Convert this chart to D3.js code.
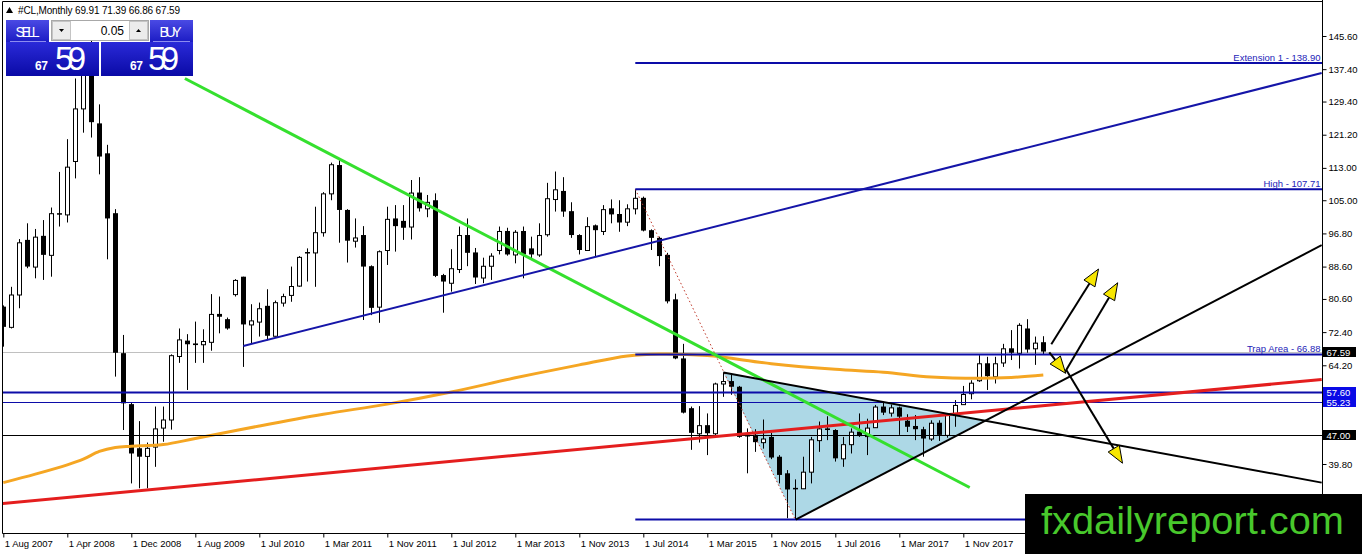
<!DOCTYPE html>
<html>
<head>
<meta charset="utf-8">
<script src="https://cdn.jsdelivr.net/npm/d3@7"></script>
<style>
  body { margin: 0; background: #fff; }
  svg { display: block; font-family: "Liberation Sans", Arial, sans-serif; }
</style>
</head>
<body>
<svg id="chart" width="1362" height="554"></svg>
<script>
// monthly #CL candles, bar 0 = Aug 2007
const opens = [78.7,73.7,81.7,95.2,88.6,96.2,91.5,101.8,101.5,114.7,127.7,140.0,124.0,116.6,101.8,67.2,54.6,43.7,41.8,44.1,
  48.8,50.8,66.5,70.3,69.6,69.4,70.0,76.9,75.6,81.8,86.1,74.3,75.0,78.9,71.5,79.7,81.6,83.9,92.2,92.1,
  97.1,106.7,113.7,102.6,95.0,96.4,88.7,78.7,92.7,100.5,99.9,98.5,106.9,103.0,105.0,86.5,84.6,88.0,96.4,92.1,
  85.9,88.8,92.7,97.4,91.6,97.4,93.1,91.6,96.6,105.3,107.3,102.3,96.4,92.7,98.8,97.4,103.0,101.6,99.7,103.0,
  105.6,97.6,95.7,91.5,80.5,65.9,53.6,47.4,49.4,47.4,59.7,60.3,58.9,47.0,47.0,45.2,46.5,41.6,37.5,33.9,
  33.8,37.9,45.7,48.6,48.2,41.2,44.7,47.8,46.7,48.9,54.0,52.5,53.8,50.5,49.2,48.4,46.1,50.0,47.0,51.9,
  54.6,57.3,60.5,64.7,61.5,64.9,68.4,67.3,73.3,68.4,69.91];
const highs = [79.0,83.6,95.4,99.3,97.9,100.1,103.2,112.0,120.1,135.1,143.7,147.3,128.7,118.7,102.8,71.7,54.9,50.4,45.1,54.0,
  54.0,66.9,73.3,71.9,75.0,73.1,81.8,81.2,76.0,85.5,86.1,79.3,79.7,83.0,80.2,81.9,88.6,91.2,93.1,103.4,
  107.0,114.3,114.9,102.8,100.5,98.6,88.9,92.6,103.4,103.8,103.8,110.0,110.7,106.3,106.7,86.8,92.9,98.5,100.5,93.2,
  90.8,91.9,98.5,98.2,97.6,98.5,96.0,99.3,109.3,112.1,110.7,104.5,96.6,100.8,99.0,103.8,105.2,105.0,104.0,107.71,
  105.9,97.8,96.0,92.0,81.9,69.5,54.0,54.1,52.3,59.9,62.4,61.8,59.1,48.6,48.4,50.8,47.5,42.0,38.3,36.0,
  41.6,46.5,50.3,51.6,48.4,46.5,48.6,52.3,51.0,54.4,55.2,54.5,54.0,52.1,51.9,49.0,50.6,50.6,52.0,55.6,
  59.1,60.5,66.7,66.3,66.3,69.5,72.9,74.6,75.6,71.3,71.39];
const lows = [68.8,73.3,78.3,88.2,85.7,85.3,86.1,98.5,99.5,110.4,121.7,120.5,111.4,90.4,61.4,48.2,35.0,33.8,33.8,39.1,
  45.3,48.3,64.8,58.1,64.8,64.8,67.8,72.1,73.0,81.2,63.8,69.6,71.3,70.4,71.3,78.7,79.9,83.6,84.9,83.6,
  96.0,105.0,94.5,89.6,93.3,75.4,76.6,74.7,89.0,92.3,95.2,95.3,102.2,100.8,86.0,77.2,82.4,87.0,88.7,84.3,
  84.5,85.3,91.6,91.3,89.4,85.7,90.6,91.0,96.0,102.2,100.9,95.7,91.6,92.5,91.0,96.4,99.3,97.2,98.6,101.5,
  97.3,92.7,88.7,79.5,65.7,52.3,43.3,45.1,42.0,46.3,56.4,56.9,46.3,37.5,42.8,43.6,41.0,35.0,26.4,26.05,
  33.6,35.0,42.8,45.7,40.4,39.1,42.4,46.5,42.0,48.7,51.9,51.5,47.0,47.7,45.7,41.6,45.5,45.5,46.3,49.0,
  54.4,55.8,60.1,58.1,59.7,63.8,65.5,63.4,67.3,64.3,66.86];
const closes = [73.7,81.7,94.6,88.6,96.0,91.5,101.8,101.5,113.3,127.7,140.0,124.3,115.8,100.5,67.3,54.8,42.4,41.6,43.8,48.6,
  50.8,66.7,70.6,69.4,69.2,70.2,76.9,76.2,73.3,85.3,74.3,75.3,78.3,71.5,79.8,81.3,83.8,91.0,91.9,97.1,
  106.7,113.9,102.6,95.0,95.8,88.6,78.4,92.4,100.4,98.6,98.2,106.9,103.0,104.6,86.3,84.9,88.2,96.4,92.0,85.9,
  88.8,91.3,97.4,91.6,97.2,91.6,91.6,96.4,105.5,107.7,102.2,96.4,92.7,98.6,97.6,102.8,101.5,99.5,103.0,105.6,
  97.5,95.7,91.2,80.0,65.9,52.5,47.5,49.4,47.4,59.7,60.3,58.9,46.5,46.6,45.2,46.1,41.4,37.1,33.5,33.7,
  37.9,45.9,48.6,48.2,41.2,44.7,47.8,46.7,48.8,54.0,52.5,53.8,51.5,49.0,48.4,46.1,50.0,47.0,51.9,54.4,
  57.1,59.9,64.7,61.5,64.7,68.4,67.3,74.2,68.1,69.8,67.59];

// orange moving average, read at some bars
const maIdx = [0,4,8,10,12,14,16,20,24,32,40,48,56,64,72,78,82,88,96,104,110,116,122,126,130];
const maVal = [35.2,37.3,39.6,41.0,42.9,43.9,44.2,44.6,46.1,49.2,52.1,54.6,57.6,61.1,64.3,66.5,67.0,66.6,64.6,63.2,62.5,61.3,61.0,61.2,61.8];

// axis ticks (the ones hidden under the price tags are left out)
const timeTickIdx = [0,8,16,24,32,40,48,56,64,72,80,88,96,104,112,120];
const timeTickLabels = ["1 Aug 2007","1 Apr 2008","1 Dec 2008","1 Aug 2009","1 Jul 2010","1 Mar 2011","1 Nov 2011","1 Jul 2012",
  "1 Mar 2013","1 Nov 2013","1 Jul 2014","1 Mar 2015","1 Nov 2015","1 Jul 2016","1 Mar 2017","1 Nov 2017"];
const priceTicks = [145.6,137.4,129.4,121.2,113.0,105.0,96.8,88.6,80.6,72.4,64.2,39.8,31.6];

// drawn objects, as [bar index, price]
const greenLine = [[22.7,135.1],[120.8,34.0]];
const redLine = [[-0.1,30.0],[164.8,60.7]];
const blueRay = [[30.0,68.96],[164.8,136.45]];
const triUpper = [[90,62.4],[164.8,35.2]];
const triLower = [[99.05,26.05],[164.8,93.9]];
const triangle = [[90,62.4],[99.05,26.05],[122.5,50.5]];
const fibStart = [79,107.71], fibEnd = [99,26.05];
const fibLevels = [26.05, 66.88, 107.71, 138.90];
const fibNames = ["", "Trap Area - 66.88", "High - 107.71", "Extension 1 - 138.90"];
const arrows = [
  [[131.0,69.4],[136.9,88.0]],
  [[132.7,62.5],[139.3,84.6]],
  [[130.75,67.4],[132.8,62.2]],
  [[132.9,63.0],[139.9,40.0]]
];
const hLevels = [57.60, 55.23, 47.00];
const lastPrice = 67.59;

const svg = d3.select("#chart");
const W = 1362, H = 554;
const pL = 2.5, pT = 1.5, pR = 1322.5, pB = 533.5;

const x = d3.scaleLinear().domain([0,130]).range([3.3,1043.3]);
const y = d3.scaleLinear().domain([145.6,39.8]).range([36,464]);

svg.append("rect").attr("width", W).attr("height", H).attr("fill", "#fff");

const defs = svg.append("defs");
defs.append("clipPath").attr("id", "plotclip")
  .append("rect").attr("x", pL + 0.5).attr("y", pT + 0.5).attr("width", pR - pL - 1).attr("height", pB - pT - 1);
const g1 = defs.append("linearGradient").attr("id", "btnTop").attr("x1", 0).attr("y1", 0).attr("x2", 0).attr("y2", 1);
g1.append("stop").attr("offset", 0).attr("stop-color", "#4a4ae4");
g1.append("stop").attr("offset", 1).attr("stop-color", "#1c1cc4");
const g2 = defs.append("linearGradient").attr("id", "btnLow").attr("x1", 0).attr("y1", 0).attr("x2", 0).attr("y2", 1);
g2.append("stop").attr("offset", 0).attr("stop-color", "#2a2ad8");
g2.append("stop").attr("offset", 1).attr("stop-color", "#0a0aa6");

const plot = svg.append("g").attr("clip-path", "url(#plotclip)");
const pt = d => [x(d[0]), y(d[1])];
const lineGen = d3.line().x(d => x(d[0])).y(d => y(d[1]));

// triangle fill (background object)
plot.append("path").attr("d", lineGen(triangle) + "Z").attr("fill", "#add8e6");

// bid line
plot.append("line").attr("x1", pL).attr("x2", pR)
  .attr("y1", Math.round(y(lastPrice)) + 0.5).attr("y2", Math.round(y(lastPrice)) + 0.5)
  .attr("stroke", "#c0c0c0").attr("stroke-width", 1);

// candles
const bars = d3.range(closes.length).map(i => ({ i, o: opens[i], h: highs[i], l: lows[i], c: closes[i] }));
const cg = plot.append("g");
cg.selectAll("line.wick").data(bars).join("line").attr("class", "wick")
  .attr("x1", d => Math.round(x(d.i)) + 0.5).attr("x2", d => Math.round(x(d.i)) + 0.5)
  .attr("y1", d => y(d.h)).attr("y2", d => y(d.l))
  .attr("stroke", "#000").attr("stroke-width", 1);
cg.selectAll("rect.body").data(bars).join("rect").attr("class", "body")
  .attr("x", d => Math.round(x(d.i)) - 2 + (d.c >= d.o ? 0.5 : 0))
  .attr("y", d => y(Math.max(d.o, d.c)) + (d.c >= d.o ? 0.5 : 0))
  .attr("width", d => d.c >= d.o ? 4 : 5)
  .attr("height", d => Math.max(Math.abs(y(d.o) - y(d.c)), 1.5))
  .attr("fill", d => d.c >= d.o ? "#fff" : "#000")
  .attr("stroke", d => d.c >= d.o ? "#000" : "none")
  .attr("stroke-width", 1);

// moving average
plot.append("path").datum(maIdx.map((d, i) => [d, maVal[i]]))
  .attr("d", d3.line().x(d => x(d[0])).y(d => y(d[1])).curve(d3.curveCatmullRom))
  .attr("fill", "none").attr("stroke", "#f5a623").attr("stroke-width", 3);

// horizontal levels
hLevels.forEach((v, i) => {
  const yy = Math.round(y(v)) + 0.5;
  plot.append("line").attr("x1", pL).attr("x2", pR).attr("y1", yy).attr("y2", yy)
    .attr("stroke", i === 2 ? "#000" : "#0c0ca8").attr("stroke-width", i === 0 ? 2 : 1);
});

// fibo expansion lines
plot.append("line")
  .attr("x1", x(fibStart[0])).attr("y1", y(fibStart[1])).attr("x2", x(fibEnd[0])).attr("y2", y(fibEnd[1]))
  .attr("stroke", "#c0392b").attr("stroke-width", 1).attr("stroke-dasharray", "1.5,2.5");
fibLevels.forEach(v => {
  plot.append("line").attr("x1", x(fibStart[0])).attr("x2", pR)
    .attr("y1", y(v)).attr("y2", y(v)).attr("stroke", "#0c0ca8").attr("stroke-width", 2);
});

// trend lines
plot.append("path").attr("d", lineGen(redLine)).attr("stroke", "#e41e1e").attr("stroke-width", 3).attr("fill", "none");
plot.append("path").attr("d", lineGen(greenLine)).attr("stroke", "#35e02e").attr("stroke-width", 3).attr("fill", "none");
plot.append("path").attr("d", lineGen(blueRay)).attr("stroke", "#1515a8").attr("stroke-width", 2).attr("fill", "none");
plot.append("path").attr("d", lineGen(triUpper)).attr("stroke", "#000").attr("stroke-width", 2).attr("fill", "none");
plot.append("path").attr("d", lineGen(triLower)).attr("stroke", "#000").attr("stroke-width", 2).attr("fill", "none");

// arrows
arrows.forEach(a => {
  const [x0, y0] = pt(a[0]), [x1, y1] = pt(a[1]);
  const len = Math.hypot(x1 - x0, y1 - y0), ux = (x1 - x0) / len, uy = (y1 - y0) / len;
  const L = 17, Wd = 6.5;
  const bx = x1 - ux * L, by = y1 - uy * L;
  plot.append("line").attr("x1", x0).attr("y1", y0).attr("x2", bx).attr("y2", by)
    .attr("stroke", "#000").attr("stroke-width", 2);
  plot.append("path")
    .attr("d", `M${x1},${y1}L${bx - uy * Wd},${by + ux * Wd}L${bx + uy * Wd},${by - ux * Wd}Z`)
    .attr("fill", "#f7e600").attr("stroke", "#000").attr("stroke-width", 1);
});

// fibo labels
fibLevels.forEach((v, i) => {
  if (!fibNames[i]) return;
  svg.append("text").attr("x", pR - 2).attr("y", y(v) - 2.5)
    .attr("text-anchor", "end").attr("font-size", 9.5).attr("fill", "#2424b8").text(fibNames[i]);
});

// frame
svg.append("path").attr("d", `M${pL},${pB}V${pT}H${pR}`).attr("fill", "none").attr("stroke", "#000");

// price axis
const yAxis = svg.append("g").attr("transform", `translate(${pR},0)`)
  .call(d3.axisRight(y).tickValues(priceTicks).tickFormat(d => d.toFixed(2)).tickSize(4).tickPadding(2));
yAxis.select(".domain").attr("d", `M0,0V${pB}`);
yAxis.selectAll("text").attr("font-size", 9.5).attr("font-family", "Liberation Sans, Arial, sans-serif").attr("fill", "#000");

// time axis
const xAxis = svg.append("g").attr("transform", `translate(0,${pB})`)
  .call(d3.axisBottom(x).tickValues(timeTickIdx).tickFormat((d, i) => timeTickLabels[i]).tickSize(4));
xAxis.select(".domain").attr("d", `M${pL},0H${pR}`);
xAxis.selectAll("text").attr("font-size", 9.5).attr("font-family", "Liberation Sans, Arial, sans-serif")
  .attr("text-anchor", "start").attr("x", 1).attr("y", 7).attr("fill", "#000");

// price tags on the axis
const tags = [[lastPrice, "#000"], [57.60, "#0a0ae6"], [55.23, "#0a0ae6"], [47.00, "#000"]];
tags.forEach(([v, col]) => {
  const yy = Math.round(y(v));
  svg.append("rect").attr("x", pR + 0.5).attr("y", yy - 5).attr("width", 33).attr("height", 10).attr("fill", col);
  svg.append("text").attr("x", pR + 4).attr("y", yy + 3.5).attr("font-size", 9.5).attr("fill", "#fff").text(v.toFixed(2));
});

// header
svg.append("path").attr("d", "M6,13L9.5,7L13,13Z").attr("fill", "#000");
svg.append("text").attr("x", 18).attr("y", 14).attr("font-size", 10).attr("textLength", 162).attr("fill", "#000")
  .text("#CL,Monthly  69.91 71.39 66.86 67.59");

// one-click trading panel
const panel = svg.append("g");
panel.append("rect").attr("x", 6).attr("y", 20).attr("width", 43).attr("height", 22).attr("fill", "url(#btnTop)");
panel.append("rect").attr("x", 6).attr("y", 42).attr("width", 93).attr("height", 34).attr("fill", "url(#btnLow)");
panel.append("rect").attr("x", 150).attr("y", 20).attr("width", 43).attr("height", 22).attr("fill", "url(#btnTop)");
panel.append("rect").attr("x", 101).attr("y", 42).attr("width", 92).attr("height", 34).attr("fill", "url(#btnLow)");
panel.append("line").attr("x1", 10).attr("x2", 46).attr("y1", 41.5).attr("y2", 41.5).attr("stroke", "#8c8cf0");
panel.append("line").attr("x1", 153).attr("x2", 190).attr("y1", 41.5).attr("y2", 41.5).attr("stroke", "#8c8cf0");
panel.append("text").attr("x", 27.5).attr("y", 36.5).attr("text-anchor", "middle").attr("font-size", 14)
  .attr("textLength", 24).attr("fill", "#fff").text("SELL");
panel.append("text").attr("x", 170.5).attr("y", 36.5).attr("text-anchor", "middle").attr("font-size", 14)
  .attr("textLength", 22).attr("fill", "#fff").text("BUY");
panel.append("rect").attr("x", 51.5).attr("y", 20.5).attr("width", 97).attr("height", 20).attr("fill", "#fff").attr("stroke", "#a8a8a8");
panel.append("rect").attr("x", 52.5).attr("y", 21.5).attr("width", 18).attr("height", 18).attr("fill", "#ececec").attr("stroke", "#c4c4c4");
panel.append("rect").attr("x", 129.5).attr("y", 21.5).attr("width", 18).attr("height", 18).attr("fill", "#ececec").attr("stroke", "#c4c4c4");
panel.append("path").attr("d", "M59,29L64,29L61.5,32Z").attr("fill", "#000");
panel.append("path").attr("d", "M136,32L141,32L138.5,29Z").attr("fill", "#000");
panel.append("text").attr("x", 124).attr("y", 35).attr("text-anchor", "end").attr("font-size", 12).attr("fill", "#000").text("0.05");
[[35, 55], [130, 148]].forEach(([sx, bx]) => {
  panel.append("text").attr("x", sx).attr("y", 70).attr("font-size", 12).attr("font-weight", "bold")
    .attr("textLength", 13).attr("fill", "#fff").text("67");
  panel.append("text").attr("x", bx).attr("y", 70).attr("font-size", 33)
    .attr("textLength", 31).attr("fill", "#fff").text("59");
});

// watermark
svg.append("rect").attr("x", 1025).attr("y", 494).attr("width", W - 1025).attr("height", H - 494).attr("fill", "#000");
svg.append("text").attr("x", 1041).attr("y", 534).attr("font-size", 38).attr("textLength", 303)
  .attr("lengthAdjust", "spacingAndGlyphs").attr("fill", "#48c82c").text("fxdailyreport.com");
</script>
</body>
</html>
